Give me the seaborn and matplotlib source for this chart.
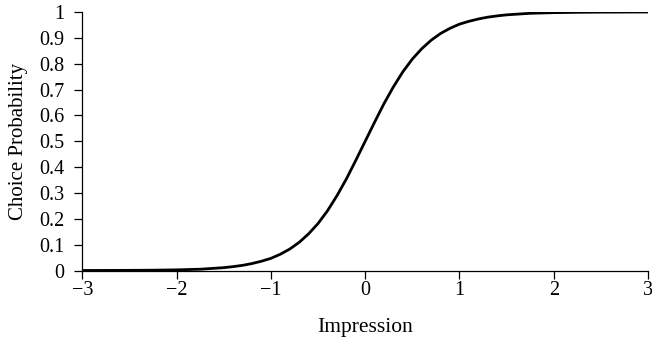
import matplotlib
matplotlib.use("Agg")
import matplotlib.pyplot as plt
import seaborn as sns
import pandas as pd
from matplotlib.ticker import FuncFormatter

# Values
impression = [-3.0, -2.75, -2.5, -2.25, -2.0, -1.75, -1.5, -1.4, -1.3, -1.2, -1.1,
              -1.0, -0.9, -0.8, -0.7, -0.6, -0.5, -0.4, -0.3, -0.2, -0.1, 0.0,
              0.1, 0.2, 0.3, 0.4, 0.5, 0.6, 0.7, 0.8, 0.9, 1.0, 1.1, 1.2, 1.3,
              1.4, 1.5, 1.75, 2.0, 2.25, 2.5, 2.75, 3.0]
choice_prob = [0.0001, 0.0003, 0.0006, 0.0012, 0.0025, 0.005, 0.011, 0.015, 0.020,
               0.027, 0.036, 0.047, 0.063, 0.083, 0.109, 0.142, 0.182, 0.231, 0.289,
               0.354, 0.426, 0.500, 0.574, 0.646, 0.711, 0.769, 0.818, 0.858, 0.891,
               0.917, 0.937, 0.953, 0.964, 0.973, 0.980, 0.985, 0.989, 0.995, 0.9975,
               0.9988, 0.9994, 0.9997, 0.9999]
x_ticks = [-3, -2, -1, 0, 1, 2, 3]
y_ticks = [0, 0.1, 0.2, 0.3, 0.4, 0.5, 0.6, 0.7, 0.8, 0.9, 1.0]

df = pd.DataFrame({"Impression": impression, "Choice Probability": choice_prob})

sns.set_style("ticks")
plt.rcParams["font.family"] = ["Liberation Serif", "DejaVu Serif"]
plt.rcParams["axes.unicode_minus"] = True

fig = plt.figure(figsize=(6.52, 3.41), dpi=100)
ax = fig.add_axes([82.4 / 652, (341 - 270.5) / 341, (648 - 82.4) / 652, (270.5 - 12) / 341])

sns.lineplot(data=df, x="Impression", y="Choice Probability", ax=ax,
             color="black", linewidth=2.0, sort=True)

ax.set_xlim(-3, 3)
ax.set_ylim(0, 1)
ax.set_xticks(x_ticks)
ax.set_yticks(y_ticks)
ax.yaxis.set_major_formatter(FuncFormatter(lambda v, p: f"{v:g}"))
ax.xaxis.set_major_formatter(FuncFormatter(lambda v, p: f"{v:g}".replace("-", "\u2212")))

for side in ["top", "right"]:
    ax.spines[side].set_visible(False)
for side in ["left", "bottom"]:
    ax.spines[side].set_color("black")
    ax.spines[side].set_linewidth(0.9)

ax.tick_params(axis="both", direction="out", length=5.8, width=0.9, color="black",
               labelsize=14.5, labelcolor="black")
ax.tick_params(axis="y", pad=7)
ax.tick_params(axis="x", pad=2)
ax.set_xlabel("Impression", fontsize=15.5, color="black", labelpad=13)
ax.set_ylabel("Choice Probability", fontsize=15, color="black", labelpad=8)

fig.savefig("out.png", dpi=100)
